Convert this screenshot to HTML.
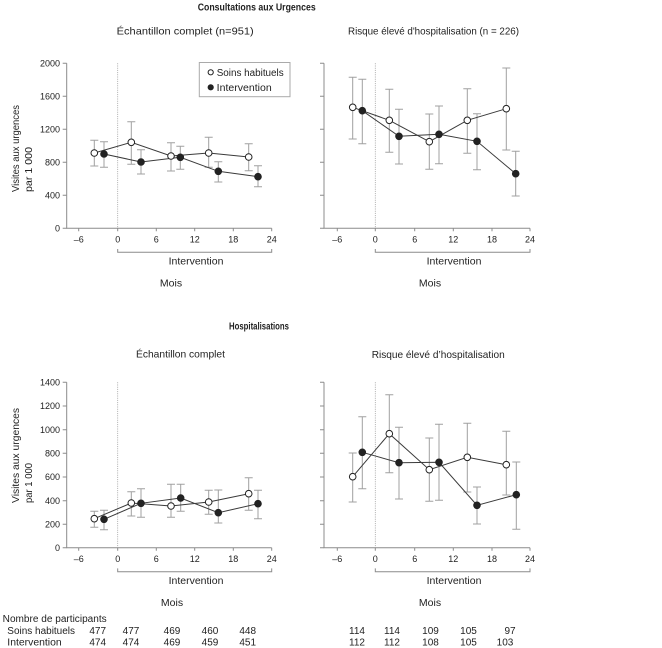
<!DOCTYPE html>
<html><head><meta charset="utf-8"><style>
html,body{margin:0;padding:0;background:#fff;}
svg{display:block;}
text{font-family:"Liberation Sans",sans-serif;fill:#222;}
.t{font-size:9px;}
.tt{font-size:10.5px;}
.b{font-size:10.5px;font-weight:bold;}
.ax{stroke:#8c8c8c;stroke-width:1;fill:none;}
.eb{stroke:#a0a0a0;stroke-width:1;fill:none;}
.ln{stroke:#3a3a3a;stroke-width:1;fill:none;}
.o{fill:#fff;stroke:#222;stroke-width:1;}
.f{fill:#222;stroke:#222;stroke-width:1;}
.dot{stroke:#999;stroke-width:0.8;stroke-dasharray:1,1.2;}
</style></head><body>
<svg width="662" height="648" viewBox="0 0 662 648" xmlns="http://www.w3.org/2000/svg">
<rect width="662" height="648" fill="#fff"/>

<!-- Titles -->
<text class="b" x="197.7" y="10.3" textLength="118" lengthAdjust="spacingAndGlyphs">Consultations aux Urgences</text>
<text class="tt" x="116.7" y="34.5" textLength="137" lengthAdjust="spacingAndGlyphs">Échantillon complet  (n=951)</text>
<text class="tt" x="348" y="34.5" textLength="171" lengthAdjust="spacingAndGlyphs">Risque élevé d'hospitalisation (n = 226)</text>
<text class="b" x="229" y="329.5" textLength="60" lengthAdjust="spacingAndGlyphs">Hospitalisations</text>
<text class="tt" x="136" y="357.5" textLength="89" lengthAdjust="spacingAndGlyphs">Échantillon complet</text>
<text class="tt" x="371.7" y="357.8" textLength="133" lengthAdjust="spacingAndGlyphs">Risque élevé d’hospitalisation</text>

<!-- Y axis titles -->
<text class="tt" transform="translate(19,192) rotate(-90)" textLength="87" lengthAdjust="spacingAndGlyphs">Visites aux urgences</text>
<text class="tt" transform="translate(32,192) rotate(-90)" textLength="45" lengthAdjust="spacingAndGlyphs">par 1 000</text>
<text class="tt" transform="translate(19,503) rotate(-90)" textLength="95" lengthAdjust="spacingAndGlyphs">Visites aux urgences</text>
<text class="tt" transform="translate(32,503) rotate(-90)" textLength="40" lengthAdjust="spacingAndGlyphs">par 1 000</text>

<!-- ===== TOP LEFT ===== -->
<g class="ax">
<path d="M66.7 63.3 V228.3 H271.7"/>
<path d="M62.7 63.3H66.7 M62.7 96.3H66.7 M62.7 129.3H66.7 M62.7 162.3H66.7 M62.7 195.3H66.7 M62.7 228.3H66.7"/>
<path d="M78.7 228.3v3 M117.7 228.3v3 M156.3 228.3v3 M194.7 228.3v3 M233.3 228.3v3 M271.7 228.3v3"/>
<path d="M117.7 249 V252.3 H271.7 V249"/>
</g>
<line class="dot" x1="117.7" y1="63.3" x2="117.7" y2="228.3"/>
<g class="t" text-anchor="end">
<text x="60" y="66.5">2000</text><text x="60" y="99.5">1600</text><text x="60" y="132.5">1200</text><text x="60" y="165.5">800</text><text x="60" y="198.5">400</text><text x="60" y="231.5">0</text>
</g>
<g class="t" text-anchor="middle">
<text x="78.7" y="242.5">–6</text><text x="117.7" y="242.5">0</text><text x="156.3" y="242.5">6</text><text x="194.7" y="242.5">12</text><text x="233.3" y="242.5">18</text><text x="271.7" y="242.5">24</text>
</g>
<text class="tt" x="196" y="264.5" text-anchor="middle">Intervention</text>
<text class="tt" x="171" y="286.7" text-anchor="middle">Mois</text>

<g class="eb">
<path d="M94.3 140.3V166 M90.3 140.3h8 M90.3 166h8"/>
<path d="M131.3 121.7V164.3 M127.3 121.7h8 M127.3 164.3h8"/>
<path d="M171 142.7V171 M167 142.7h8 M167 171h8"/>
<path d="M208.7 137.3V167.3 M204.7 137.3h8 M204.7 167.3h8"/>
<path d="M248.7 143.7V170.7 M244.7 143.7h8 M244.7 170.7h8"/>
<path d="M104 141.7V167.3 M100 141.7h8 M100 167.3h8"/>
<path d="M141 149.7V174 M137 149.7h8 M137 174h8"/>
<path d="M180.3 146.3V169.3 M176.3 146.3h8 M176.3 169.3h8"/>
<path d="M218.3 161.7V182 M214.3 161.7h8 M214.3 182h8"/>
<path d="M258 165.7V186.7 M254 165.7h8 M254 186.7h8"/>
</g>
<polyline class="ln" points="94.3,153 131.3,142.3 171,156 208.7,153 248.7,157"/>
<polyline class="ln" points="104,154 141,162 180.3,157.3 218.3,171.3 258,176.7"/>
<g class="o"><circle cx="94.3" cy="153" r="3.3"/><circle cx="131.3" cy="142.3" r="3.3"/><circle cx="171" cy="156" r="3.3"/><circle cx="208.7" cy="153" r="3.3"/><circle cx="248.7" cy="157" r="3.3"/></g>
<g class="f"><circle cx="104" cy="154" r="3.3"/><circle cx="141" cy="162" r="3.3"/><circle cx="180.3" cy="157.3" r="3.3"/><circle cx="218.3" cy="171.3" r="3.3"/><circle cx="258" cy="176.7" r="3.3"/></g>

<!-- legend -->
<rect x="199.3" y="62.5" width="90.7" height="34.2" fill="#fff" stroke="#aaa" stroke-width="1"/>
<circle cx="210.7" cy="72.3" r="2.6" class="o"/>
<circle cx="210.7" cy="87.3" r="2.6" class="f"/>
<text x="216.7" y="75.8" style="font-size:10px" textLength="67" lengthAdjust="spacingAndGlyphs">Soins habituels</text>
<text x="216.7" y="90.8" style="font-size:10px" textLength="55" lengthAdjust="spacingAndGlyphs">Intervention</text>

<!-- ===== TOP RIGHT ===== -->
<g class="ax">
<path d="M324 63.3 V228.3 H530"/>
<path d="M320 63.3H324 M320 96.3H324 M320 129.3H324 M320 162.3H324 M320 195.3H324 M320 228.3H324"/>
<path d="M337.3 228.3v3 M375.3 228.3v3 M414.7 228.3v3 M453.3 228.3v3 M492 228.3v3 M530 228.3v3"/>
<path d="M375.3 249 V252.3 H530 V249"/>
</g>
<line class="dot" x1="375.3" y1="63.3" x2="375.3" y2="228.3"/>
<g class="t" text-anchor="middle">
<text x="337.3" y="242.5">–6</text><text x="375.3" y="242.5">0</text><text x="414.7" y="242.5">6</text><text x="453.3" y="242.5">12</text><text x="492" y="242.5">18</text><text x="530" y="242.5">24</text>
</g>
<text class="tt" x="454" y="264.5" text-anchor="middle">Intervention</text>
<text class="tt" x="430" y="286.7" text-anchor="middle">Mois</text>

<g class="eb">
<path d="M352.7 77.3V139 M348.7 77.3h8 M348.7 139h8"/>
<path d="M389.3 89.3V152.3 M385.3 89.3h8 M385.3 152.3h8"/>
<path d="M429.3 114V169.3 M425.3 114h8 M425.3 169.3h8"/>
<path d="M467.3 88.7V153.3 M463.3 88.7h8 M463.3 153.3h8"/>
<path d="M506.3 68V150 M502.3 68h8 M502.3 150h8"/>
<path d="M362.3 79.3V143.7 M358.3 79.3h8 M358.3 143.7h8"/>
<path d="M399 109.3V164 M395 109.3h8 M395 164h8"/>
<path d="M439 106V163.7 M435 106h8 M435 163.7h8"/>
<path d="M477 113.7V169.7 M473 113.7h8 M473 169.7h8"/>
<path d="M515.7 151.3V196 M511.7 151.3h8 M511.7 196h8"/>
</g>
<polyline class="ln" points="352.7,107.3 389.3,120.3 429.3,141.7 467.3,120.3 506.3,108.7"/>
<polyline class="ln" points="362.3,110.7 399,136.3 439,134.3 477,141.3 515.7,173.7"/>
<g class="o"><circle cx="352.7" cy="107.3" r="3.3"/><circle cx="389.3" cy="120.3" r="3.3"/><circle cx="429.3" cy="141.7" r="3.3"/><circle cx="467.3" cy="120.3" r="3.3"/><circle cx="506.3" cy="108.7" r="3.3"/></g>
<g class="f"><circle cx="362.3" cy="110.7" r="3.3"/><circle cx="399" cy="136.3" r="3.3"/><circle cx="439" cy="134.3" r="3.3"/><circle cx="477" cy="141.3" r="3.3"/><circle cx="515.7" cy="173.7" r="3.3"/></g>

<!-- ===== BOTTOM LEFT ===== -->
<g class="ax">
<path d="M66.7 382.3 V547.7 H271.7"/>
<path d="M62.7 382.3H66.7 M62.7 406H66.7 M62.7 429.7H66.7 M62.7 453.3H66.7 M62.7 477H66.7 M62.7 500.7H66.7 M62.7 524.3H66.7 M62.7 547.7H66.7"/>
<path d="M78.7 547.7v3 M117.7 547.7v3 M156.3 547.7v3 M194.7 547.7v3 M233.3 547.7v3 M271.7 547.7v3"/>
<path d="M117.7 568.4 V571.7 H271.7 V568.4"/>
</g>
<line class="dot" x1="117.7" y1="382.3" x2="117.7" y2="547.7"/>
<g class="t" text-anchor="end">
<text x="60" y="385.5">1400</text><text x="60" y="409.2">1200</text><text x="60" y="432.9">1000</text><text x="60" y="456.5">800</text><text x="60" y="480.2">600</text><text x="60" y="503.9">400</text><text x="60" y="527.5">200</text><text x="60" y="550.9">0</text>
</g>
<g class="t" text-anchor="middle">
<text x="78.7" y="562">–6</text><text x="117.7" y="562">0</text><text x="156.3" y="562">6</text><text x="194.7" y="562">12</text><text x="233.3" y="562">18</text><text x="271.7" y="562">24</text>
</g>
<text class="tt" x="196" y="583.8" text-anchor="middle">Intervention</text>
<text class="tt" x="172" y="606" text-anchor="middle">Mois</text>

<g class="eb">
<path d="M94.3 511.3V527.3 M90.3 511.3h8 M90.3 527.3h8"/>
<path d="M131.3 491.7V516 M127.3 491.7h8 M127.3 516h8"/>
<path d="M171 484.3V517.3 M167 484.3h8 M167 517.3h8"/>
<path d="M208.7 490.3V514.3 M204.7 490.3h8 M204.7 514.3h8"/>
<path d="M248.7 477.7V510.3 M244.7 477.7h8 M244.7 510.3h8"/>
<path d="M104 510.3V529.7 M100 510.3h8 M100 529.7h8"/>
<path d="M141 488.7V517.3 M137 488.7h8 M137 517.3h8"/>
<path d="M180.7 484.3V511.3 M176.7 484.3h8 M176.7 511.3h8"/>
<path d="M218.3 490V523 M214.3 490h8 M214.3 523h8"/>
<path d="M258 490.3V518.7 M254 490.3h8 M254 518.7h8"/>
</g>
<polyline class="ln" points="94.3,518.7 131.3,503 171,506 208.7,502 248.7,493.7"/>
<polyline class="ln" points="104,519.3 141,503.3 180.7,498 218.3,512.7 258,503.7"/>
<g class="o"><circle cx="94.3" cy="518.7" r="3.3"/><circle cx="131.3" cy="503" r="3.3"/><circle cx="171" cy="506" r="3.3"/><circle cx="208.7" cy="502" r="3.3"/><circle cx="248.7" cy="493.7" r="3.3"/></g>
<g class="f"><circle cx="104" cy="519.3" r="3.3"/><circle cx="141" cy="503.3" r="3.3"/><circle cx="180.7" cy="498" r="3.3"/><circle cx="218.3" cy="512.7" r="3.3"/><circle cx="258" cy="503.7" r="3.3"/></g>

<!-- ===== BOTTOM RIGHT ===== -->
<g class="ax">
<path d="M324 382.3 V547.7 H530"/>
<path d="M320 382.3H324 M320 406H324 M320 429.7H324 M320 453.3H324 M320 477H324 M320 500.7H324 M320 524.3H324 M320 547.7H324"/>
<path d="M337.3 547.7v3 M375.3 547.7v3 M414.7 547.7v3 M453.3 547.7v3 M492 547.7v3 M530 547.7v3"/>
<path d="M375.3 568.4 V571.7 H530 V568.4"/>
</g>
<line class="dot" x1="375.3" y1="382.3" x2="375.3" y2="547.7"/>
<g class="t" text-anchor="middle">
<text x="337.3" y="562">–6</text><text x="375.3" y="562">0</text><text x="414.7" y="562">6</text><text x="453.3" y="562">12</text><text x="492" y="562">18</text><text x="530" y="562">24</text>
</g>
<text class="tt" x="454" y="583.8" text-anchor="middle">Intervention</text>
<text class="tt" x="430" y="606" text-anchor="middle">Mois</text>

<g class="eb">
<path d="M352.7 453V502 M348.7 453h8 M348.7 502h8"/>
<path d="M389.3 394.7V472.7 M385.3 394.7h8 M385.3 472.7h8"/>
<path d="M429.3 438V501.3 M425.3 438h8 M425.3 501.3h8"/>
<path d="M467.3 423.3V492 M463.3 423.3h8 M463.3 492h8"/>
<path d="M506.3 431.3V495 M502.3 431.3h8 M502.3 495h8"/>
<path d="M362.3 416.7V488.7 M358.3 416.7h8 M358.3 488.7h8"/>
<path d="M399 427.3V499 M395 427.3h8 M395 499h8"/>
<path d="M439 424.3V500.3 M435 424.3h8 M435 500.3h8"/>
<path d="M477 487V524 M473 487h8 M473 524h8"/>
<path d="M516.3 462V529.3 M512.3 462h8 M512.3 529.3h8"/>
</g>
<polyline class="ln" points="352.7,476.7 389.3,433.7 429.3,469.7 467.3,457.3 506.3,464.7"/>
<polyline class="ln" points="362.3,452.3 399,462.7 439,462.3 477,505.3 516.3,494.7"/>
<g class="o"><circle cx="352.7" cy="476.7" r="3.3"/><circle cx="389.3" cy="433.7" r="3.3"/><circle cx="429.3" cy="469.7" r="3.3"/><circle cx="467.3" cy="457.3" r="3.3"/><circle cx="506.3" cy="464.7" r="3.3"/></g>
<g class="f"><circle cx="362.3" cy="452.3" r="3.3"/><circle cx="399" cy="462.7" r="3.3"/><circle cx="439" cy="462.3" r="3.3"/><circle cx="477" cy="505.3" r="3.3"/><circle cx="516.3" cy="494.7" r="3.3"/></g>

<!-- ===== TABLE ===== -->
<g style="font-size:10px">
<text x="2.7" y="622" textLength="104" lengthAdjust="spacingAndGlyphs">Nombre de participants</text>
<text x="7.3" y="633.8" textLength="67.7" lengthAdjust="spacingAndGlyphs">Soins habituels</text>
<text x="7.3" y="645.6" textLength="54.4" lengthAdjust="spacingAndGlyphs">Intervention</text>
<g text-anchor="middle">
<text x="97.7" y="633.8">477</text><text x="131" y="633.8">477</text><text x="172" y="633.8">469</text><text x="210" y="633.8">460</text><text x="247.7" y="633.8">448</text>
<text x="97.7" y="645.6">474</text><text x="131" y="645.6">474</text><text x="172" y="645.6">469</text><text x="210" y="645.6">459</text><text x="247.7" y="645.6">451</text>
<text x="357" y="633.8">114</text><text x="392" y="633.8">114</text><text x="430.5" y="633.8">109</text><text x="468.5" y="633.8">105</text><text x="510" y="633.8">97</text>
<text x="357" y="645.6">112</text><text x="392" y="645.6">112</text><text x="430.5" y="645.6">108</text><text x="468.5" y="645.6">105</text><text x="505" y="645.6">103</text>
</g>
</g>
</svg>
</body></html>
